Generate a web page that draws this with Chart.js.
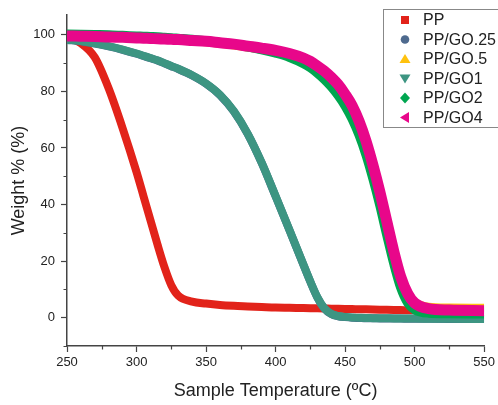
<!DOCTYPE html>
<html>
<head>
<meta charset="utf-8">
<script src="https://cdn.jsdelivr.net/npm/chart.js@4.4.1/dist/chart.umd.min.js"></script>
<style>
  html, body { margin: 0; padding: 0; background: #fff; }
  #wrap { width: 498px; height: 405px; }
</style>
</head>
<body>
<div id="wrap"><canvas id="chart"></canvas></div>
<script>
// temperatures (ºC) shared by every series
const temps = [250, 260, 270, 280, 290, 300, 305, 310, 315, 320, 325, 330, 340, 350, 360, 370, 380, 390, 400, 410,
               420, 425, 430, 435, 440, 445, 450, 455, 460, 465, 470, 475, 480, 485, 490, 495, 500, 510, 525, 550];

// weight %
const pp    = [99.2, 97, 92, 81, 67, 51.5, 43, 34.5, 26, 18, 11.5, 7.8, 5.7, 5, 4.5, 4.2, 4, 3.8, 3.6, 3.5,
               3.4, 3.35, 3.3, 3.25, 3.2, 3.15, 3.1, 3.05, 3, 2.95, 2.9, 2.85, 2.8, 2.75, 2.7, 2.65, 2.6, 2.5, 2.4, 2.2];
const go025 = [98.2, 97.7, 96.9, 95.9, 94.7, 93.3, 92.5, 91.7, 90.9, 89.9, 88.9, 87.9, 85.6, 82.7, 78.7, 72.9, 64.9, 54.7, 42.9, 30.9,
               18.7, 12.7, 7.2, 3.3, 1.3, 0.5, 0.2, 0, -0.1, -0.2, -0.2, -0.25, -0.25, -0.3, -0.3, -0.35, -0.35, -0.4, -0.45, -0.5];
const go05  = [99.7, 99.6, 99.5, 99.3, 99.1, 98.9, 98.8, 98.7, 98.6, 98.4, 98.3, 98.2, 97.9, 97.5, 97, 96.4, 95.7, 94.9, 94, 92.8,
               91, 89.7, 88, 86, 83.6, 80.8, 77.2, 72.8, 67.2, 60, 51.5, 42, 31.5, 21.5, 13, 8, 5.3, 3.7, 3.4, 3.3];
const go1   = [98.3, 97.8, 97, 96, 94.8, 93.4, 92.6, 91.8, 91, 90, 89, 88, 85.7, 82.8, 78.8, 73, 65, 54.8, 43, 31,
               18.8, 12.8, 7.3, 3.4, 1.4, 0.6, 0.3, 0.1, 0, -0.1, -0.15, -0.2, -0.2, -0.25, -0.25, -0.3, -0.3, -0.35, -0.4, -0.5];
const go2   = [100.3, 100.2, 100.1, 100, 99.8, 99.6, 99.5, 99.4, 99.3, 99.1, 99, 98.8, 98.4, 97.9, 97.3, 96.6, 95.7, 94.7, 93.5, 92,
               89.8, 88.3, 86.4, 84.2, 81.6, 78.5, 74.8, 70.2, 64.5, 57.5, 49, 39.5, 29, 19, 10.5, 5.2, 2.8, 1.6, 1.4, 1.3];
const go4   = [99.6, 99.5, 99.4, 99.2, 99.1, 98.9, 98.8, 98.7, 98.6, 98.5, 98.4, 98.3, 98, 97.7, 97.2, 96.7, 96, 95.3, 94.5, 93.4,
               91.8, 90.6, 89, 87.2, 85, 82.4, 79, 75, 69.5, 62.5, 54, 44.5, 34, 23.5, 14.5, 8.5, 5.2, 3.2, 2.7, 2.5];

const labels = ["PP", "PP/GO.25", "PP/GO.5", "PP/GO1", "PP/GO2", "PP/GO4"];
const colors = ["#e2231a", "#4e6a8e", "#ffc20e", "#3d9582", "#00a650", "#e8078a"];
const markers = ["square", "circle", "triangle", "triangleDown", "diamond", "triangleLeft"];
const widths = [8, 8, 9, 8, 9, 11];
const series = [pp, go025, go05, go1, go2, go4];

const xTicks = [250, 275, 300, 325, 350, 375, 400, 425, 450, 475, 500, 525, 550];
const yTicks = [-10, 0, 10, 20, 30, 40, 50, 60, 70, 80, 90, 100];

const font = "'Liberation Sans', Arial, sans-serif";
const axisColor = "#444";

function drawMarker(ctx, type, x, y, color) {
    ctx.save();
    ctx.fillStyle = color;
    ctx.beginPath();
    if (type === "square") {
        ctx.rect(x - 4, y - 4, 8, 8);
    } else if (type === "circle") {
        ctx.arc(x, y, 4.3, 0, Math.PI * 2);
    } else if (type === "triangle") {
        ctx.moveTo(x, y - 5); ctx.lineTo(x + 5.5, y + 4); ctx.lineTo(x - 5.5, y + 4);
    } else if (type === "triangleDown") {
        ctx.moveTo(x, y + 5); ctx.lineTo(x + 5.5, y - 4); ctx.lineTo(x - 5.5, y - 4);
    } else if (type === "diamond") {
        ctx.moveTo(x, y - 5.5); ctx.lineTo(x + 5, y); ctx.lineTo(x, y + 5.5); ctx.lineTo(x - 5, y);
    } else if (type === "triangleLeft") {
        ctx.moveTo(x - 5, y); ctx.lineTo(x + 4, y - 5.5); ctx.lineTo(x + 4, y + 5.5);
    }
    ctx.closePath();
    ctx.fill();
    ctx.restore();
}

const isMajorX = v => v % 50 === 0;
const isMajorY = v => v % 20 === 0;

// short minor ticks (the library draws the long major ones)
const minorTicks = {
    id: "minorTicks",
    afterDraw(chart) {
        const ctx = chart.ctx;
        const xs = chart.scales.x, ys = chart.scales.y;
        ctx.save();
        ctx.strokeStyle = axisColor;
        ctx.lineWidth = 1.2;
        ctx.beginPath();
        xTicks.filter(v => !isMajorX(v)).forEach(v => {
            const px = Math.round(xs.getPixelForValue(v)) + 0.5;
            ctx.moveTo(px, xs.top);
            ctx.lineTo(px, xs.top + 3.5);
        });
        yTicks.filter(v => !isMajorY(v)).forEach(v => {
            const py = Math.round(ys.getPixelForValue(v)) + 0.5;
            ctx.moveTo(ys.right, py);
            ctx.lineTo(ys.right - 3.5, py);
        });
        ctx.stroke();
        ctx.restore();
    }
};

// boxed legend inside the plot, top right
const boxLegend = {
    id: "boxLegend",
    afterDraw(chart) {
        const ctx = chart.ctx;
        ctx.save();
        ctx.fillStyle = "#fff";
        ctx.fillRect(383.5, 9.5, 130, 118);
        ctx.strokeStyle = "#888";
        ctx.lineWidth = 1;
        ctx.strokeRect(383.5, 9.5, 130, 118);
        ctx.font = "16px " + font;
        ctx.fillStyle = "#222";
        ctx.textBaseline = "middle";
        labels.forEach((l, i) => {
            const y = 20 + i * 19.5;
            drawMarker(ctx, markers[i], 405, y, colors[i]);
            ctx.fillText(l, 423, y + 1);
        });
        ctx.restore();
    }
};

const datasets = series.map((s, i) => ({
    label: labels[i],
    data: temps.map((t, j) => ({ x: t, y: s[j] })),
    borderColor: colors[i],
    backgroundColor: colors[i],
    borderWidth: widths[i],
    pointRadius: 0,
    showLine: true,
    cubicInterpolationMode: "monotone",
    order: series.length - i
}));

new Chart(document.getElementById("chart"), {
    type: "scatter",
    data: { datasets: datasets },
    options: {
        responsive: true,
        maintainAspectRatio: false,
        animation: false,
        layout: { padding: { left: 0, right: 12, top: 15, bottom: 0 } },
        plugins: {
            legend: { display: false },
            tooltip: { enabled: false }
        },
        scales: {
            x: {
                type: "linear",
                min: 250,
                max: 550,
                afterBuildTicks: s => { s.ticks = xTicks.map(v => ({ value: v })); },
                afterFit: s => { s.height = 59; },
                border: { color: axisColor, width: 1.5 },
                grid: {
                    drawOnChartArea: false,
                    tickLength: 6,
                    tickWidth: 1.2,
                    tickColor: c => (c.tick && isMajorX(c.tick.value) ? axisColor : "rgba(0,0,0,0)")
                },
                ticks: {
                    autoSkip: false,
                    maxRotation: 0,
                    padding: 3,
                    color: "#222",
                    font: { family: font, size: 13 },
                    callback: v => (isMajorX(v) ? v : "")
                },
                title: {
                    display: true,
                    text: "Sample Temperature (ºC)",
                    color: "#222",
                    font: { family: font, size: 18 },
                    padding: { top: 0, bottom: 3 }
                }
            },
            y: {
                type: "linear",
                min: -10,
                max: 107,
                afterBuildTicks: s => { s.ticks = yTicks.map(v => ({ value: v })); },
                afterFit: s => { s.width = 67; },
                border: { color: axisColor, width: 1.5 },
                grid: {
                    drawOnChartArea: false,
                    tickLength: 6,
                    tickWidth: 1.2,
                    tickColor: c => (c.tick && isMajorY(c.tick.value) ? axisColor : "rgba(0,0,0,0)")
                },
                ticks: {
                    padding: 6,
                    color: "#222",
                    font: { family: font, size: 13 },
                    callback: v => (isMajorY(v) ? v : "")
                },
                title: {
                    display: true,
                    text: "Weight % (%)",
                    color: "#222",
                    font: { family: font, size: 18 },
                    padding: { top: 8, bottom: 0 }
                }
            }
        }
    },
    plugins: [minorTicks, boxLegend]
});
</script>
</body>
</html>
